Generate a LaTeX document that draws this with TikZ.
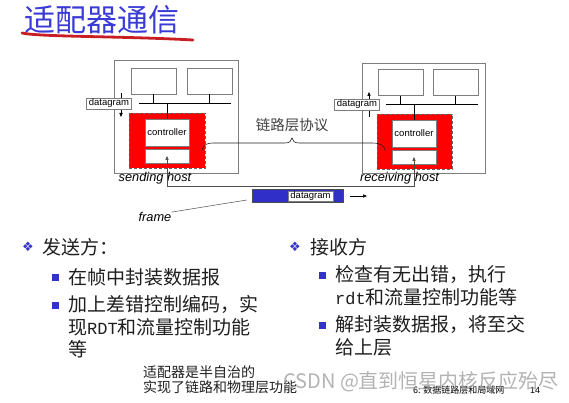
\documentclass[tikz,border=0pt]{standalone}
\usepackage{fontspec}
\setmainfont{Liberation Sans}
\newfontfamily\cjk{Noto Sans CJK SC}
\newfontfamily\symfont{DejaVu Sans}
\newfontfamily\latinmono{Liberation Mono}
\usetikzlibrary{arrows.meta, positioning, calc}
\definecolor{titleblue}{RGB}{58, 58, 214}
\definecolor{markred}{RGB}{200, 30, 35}
\definecolor{bulletblue}{RGB}{51, 51, 204}
\definecolor{framefill}{RGB}{48, 48, 200}
\definecolor{boxgray}{RGB}{125, 125, 125}
\definecolor{textdark}{RGB}{30, 30, 30}

\begin{document}
\begin{tikzpicture}[x=1pt, y=-1pt,
  hostbox/.style={draw=boxgray, line width=0.7pt, inner sep=0pt},
  pcbox/.style={draw=boxgray, line width=0.7pt, fill=white, minimum width=45pt, minimum height=26pt, inner sep=0pt},
  adapter/.style={draw=black!60, densely dashed, line width=0.5pt, fill=red, minimum width=76pt, minimum height=55pt, inner sep=0pt},
  ctrlbox/.style={draw=boxgray, line width=0.7pt, fill=white, minimum width=44pt, minimum height=27pt, inner sep=0pt, font=\fontsize{9.5}{10}\selectfont},
  phybox/.style={draw=boxgray, line width=0.7pt, fill=white, minimum width=44pt, minimum height=14pt, inner sep=0pt},
  dglabel/.style={draw=boxgray, line width=0.6pt, fill=white, inner xsep=2.5pt, inner ysep=0pt, minimum height=11pt, font=\fontsize{9.5}{10}\selectfont},
  hostname/.style={font=\fontsize{12.8}{13}\selectfont\itshape, inner sep=0pt},
  wire/.style={draw=black, line width=0.7pt},
  tip/.style={-{Triangle[length=4pt,width=3.2pt]}},
  diamondmark/.style={font=\symfont\fontsize{13}{13}\selectfont, text=bulletblue, inner sep=0pt},
  sqmark/.style={fill=bulletblue, minimum size=7pt, inner sep=0pt},
  cn/.style={font=\cjk\fontsize{19}{22.5}\selectfont, text=textdark, align=left, inner sep=0pt, anchor=north west}]
  \useasboundingbox (0,0) rectangle (569,403);

  % title
  \node[font=\cjk\fontsize{31}{31}\selectfont, text=titleblue, anchor=west, inner sep=0pt] (title) at (24,19.5) {适配器通信};
  \draw[markred, line width=2.8pt, line cap=round] (22,33) .. controls (40,37) and (120,36) .. (193,40);

  % sending host
  \node[hostbox, minimum width=124pt, minimum height=113pt] (shost) at (176,116.5) {};
  \node[pcbox] (spcl) at (153.5,81) {};
  \node[pcbox] (spcr) at (209.5,81) {};
  \coordinate (sbusl) at (139,103);
  \coordinate (sbusr) at (231,103);
  \draw[wire] (sbusl) -- (sbusr);
  \draw[wire] (spcl.south) -- (spcl.south |- sbusl);
  \draw[wire] (spcr.south) -- (spcr.south |- sbusl);
  \node[adapter] (sadapt) at (167,140.5) {};
  \node[ctrlbox] (sctrl) at (167,132.5) {controller};
  \node[phybox] (sphy) at (167,156) {};
  \draw[wire] (sctrl.north) -- (sctrl.north |- sbusl);
  \coordinate (sdgtop) at (121,93);
  \coordinate (sdgbot) at (121,117);
  \draw[tip, line width=0.5pt] (sdgtop) -- (sdgbot);
  \node[dglabel] (sdg) at (109,103.5) {datagram};
  \node[hostname] (sname) at (155,178) {sending host};

  % receiving host
  \node[hostbox, minimum width=123pt, minimum height=110pt] (rhost) at (423.5,118) {};
  \node[pcbox] (rpcl) at (400.5,82.5) {};
  \node[pcbox] (rpcr) at (455.5,82.5) {};
  \coordinate (rbusl) at (386,104.5);
  \coordinate (rbusr) at (478,104.5);
  \draw[wire] (rbusl) -- (rbusr);
  \draw[wire] (rpcl.south) -- (rpcl.south |- rbusl);
  \draw[wire] (rpcr.south) -- (rpcr.south |- rbusl);
  \node[adapter, minimum width=75pt] (radapt) at (414.5,141.5) {};
  \node[ctrlbox] (rctrl) at (414,133.5) {controller};
  \node[phybox] (rphy) at (414,157) {};
  \draw[wire] (rctrl.north) -- (rctrl.north |- rbusl);
  \coordinate (rdgbot) at (369,117);
  \coordinate (rdgtop) at (369,92);
  \draw[tip, line width=0.5pt] (rdgbot) -- (rdgtop);
  \node[dglabel] (rdg) at (357,104.5) {datagram};
  \node[hostname] (rname) at (399.5,178) {receiving host};

  % link between adapters
  \coordinate (linky) at (0,186);
  \draw[draw=black!70, line width=0.6pt, {Triangle[length=4pt,width=3.2pt]}-{Triangle[length=4pt,width=3.2pt]}]
    (sphy.center) -- (sphy.center |- linky) -| (rphy.center);

  % link layer protocol brace
  \coordinate (bracel) at (202,150);
  \coordinate (bracer) at (385,150);
  \draw[textdark, line width=0.6pt] (bracel) .. controls (204,144) and (207,143) .. (215,143) -- (285,143)
    .. controls (290,143) and (291,141) .. (292,138) .. controls (293,141) and (294,143) .. (299,143)
    -- (372,143) .. controls (381,143) and (384,146) .. (bracer);
  \node[font=\cjk\fontsize{14.5}{15}\selectfont, text=textdark!85, inner sep=0pt] (proto) at (292,125) {链路层协议};

  % frame
  \node[draw=black!70, fill=framefill, minimum width=91pt, minimum height=13pt, inner sep=0pt] (frm) at (297.5,195.5) {};
  \node[dglabel, minimum width=45pt, minimum height=10pt] (fdg) at (310.5,196) {datagram};
  \coordinate (fmovea) at (350,196);
  \coordinate (fmoveb) at (367,196);
  \draw[tip, line width=0.6pt] (fmovea) -- (fmoveb);
  \node[hostname] (frmlbl) at (155,217) {frame};
  \draw[draw=black!70, line width=0.5pt] (frmlbl.north east) -- ([xshift=-5pt,yshift=-4.5pt]frm.west);

  % sender side
  \node[diamondmark] (sbul) at (28,247) {❖};
  \node[cn, anchor=west] (sside) at (42,247) {发送方：};
  \node[sqmark] (sq1) at (55,277) {};
  \node[cn, anchor=west] (st1) at (68,277) {在帧中封装数据报};
  \node[sqmark] (sq2) at (55,305) {};
  \node[cn] (st2) at (68,295.5) {加上差错控制编码，实\\现{\latinmono\fontsize{17}{22.5}\selectfont RDT}和流量控制功能\\等};

  % receiver side
  \node[diamondmark] (rbul) at (295,247) {❖};
  \node[cn, anchor=west] (rside) at (310,247) {接收方};
  \node[sqmark] (rq1) at (322,275) {};
  \node[cn] (rt1) at (335,265.5) {检查有无出错，执行\\{\latinmono\fontsize{17}{22.5}\selectfont rdt}和流量控制功能等};
  \node[sqmark] (rq2) at (322,325) {};
  \node[cn] (rt2) at (335,315.5) {解封装数据报，将至交\\给上层};

  % note and footer
  \node[font=\cjk\fontsize{14}{15}\selectfont, text=textdark, align=left, anchor=north west, inner sep=0pt] (note) at (143,365) {适配器是半自治的\\实现了链路和物理层功能};
  \node[font=\cjk\fontsize{9}{9}\selectfont, anchor=west, inner sep=0pt] (foot) at (413,390) {6: 数据链路层和局域网};
  \node[font=\fontsize{9}{9}\selectfont, anchor=west, inner sep=0pt] (pageno) at (530,390) {14};
  \node[font=\cjk\fontsize{20}{20}\selectfont, text=black!40, opacity=0.75, anchor=west, inner sep=0pt] (wmark) at (283,382) {CSDN @直到恒星内核反应殆尽};
\end{tikzpicture}
\end{document}
